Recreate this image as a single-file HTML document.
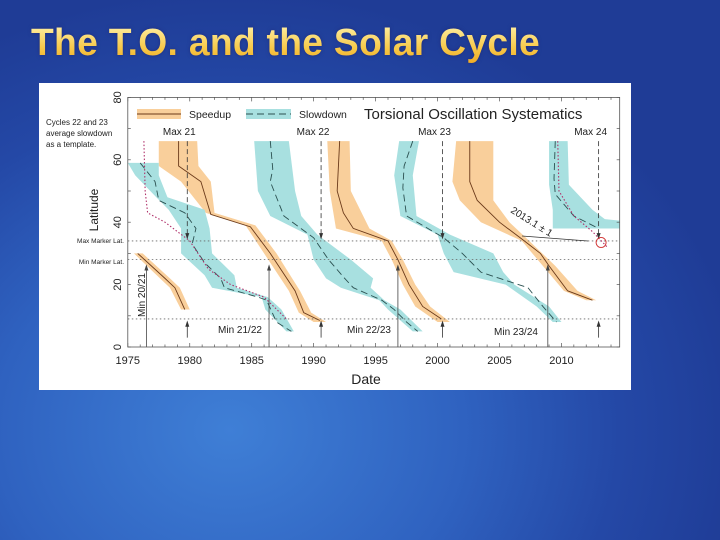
<!DOCTYPE html>
<html><head><meta charset="utf-8">
<style>
html,body{margin:0;padding:0;}
body{width:720px;height:540px;overflow:hidden;position:relative;
background:radial-gradient(ellipse 520px 440px at 230px 430px,#3f7fd6 0%,#2f62c0 45%,#2448a6 75%,#1f3c96 100%);font-family:"Liberation Sans",sans-serif;}
#title{position:absolute;left:31px;top:22px;font-size:38px;font-weight:bold;letter-spacing:0.3px;
background:linear-gradient(#fff4b0,#f7c94a 60%,#f0a820);-webkit-background-clip:text;background-clip:text;color:transparent;
filter:drop-shadow(0 0 2px rgba(30,40,120,.8));white-space:nowrap;transform:scaleX(0.98);transform-origin:left top;}
#chart{position:absolute;left:39px;top:83px;width:592px;height:307px;background:#fff;}
svg text{font-family:"Liberation Sans",sans-serif;fill:#222;}
</style></head>
<body>
<div id="title">The T.O. and the Solar Cycle</div>
<div id="chart">
<svg id="svg" width="592" height="307" viewBox="39 83 592 307" xmlns="http://www.w3.org/2000/svg"></svg>
</div>
<script>
// data: bands are [lat, leftYear, rightYear]; lines are [year, lat]
const xTicks=[1975,1980,1985,1990,1995,2000,2005,2010];
const yTicks=[0,20,40,60,80];
const speedBandA=[[30,1975.5,1976.2],[22,1977.6,1978.4],[19,1978.4,1979.2],[12,1979.3,1980.0]];
const speedBandB=[[66,1977.5,1980.6],[58,1977.5,1980.7],[53,1979.3,1981.7],[43,1981.3,1982.0],[39,1984.5,1985.3],[30,1986.0,1987.0],[18,1988.0,1988.9],[11,1988.8,1989.8],[8,1990.0,1991.0]];
const speedBandC=[[66,1991.1,1992.9],[50,1991.3,1993.0],[38,1991.8,1994.5],[34,1995.5,1996.3],[28,1996.3,1997.2],[20,1997.2,1998.2],[13,1998.2,1999.4],[8,2000.0,2001.0]];
const speedBandD=[[66,2001.5,2004.5],[53,2001.2,2004.5],[47,2001.8,2004.5],[40,2003.5,2005.8],[34,2006.8,2007.4],[26,2008.5,2009.5],[18,2010.2,2011.3],[15,2012.0,2012.8]];
const slowBandA=[[59,1975.0,1977.5],[55,1975.6,1977.5],[48,1977.3,1978.2],[44,1978.3,1981.2],[38,1979.3,1981.6],[30,1979.3,1981.8],[23,1981.2,1983.6],[19,1981.8,1983.8],[16,1985.8,1986.3],[12,1986.1,1987.4],[5,1987.8,1988.4]];
const slowBandB=[[66,1985.2,1988.0],[50,1985.5,1988.5],[42,1986.5,1989.0],[36,1989.5,1990.3],[28,1990.0,1993.0],[22,1991.0,1994.8],[19,1992.2,1994.6],[15,1995.3,1995.7],[12,1996.0,1997.0],[5,1998.0,1998.8]];
const slowBandC=[[66,1996.9,1998.5],[55,1996.5,1998.0],[42,1997.0,1998.3],[36,2000.0,2001.0],[30,2000.5,2004.5],[24,2001.3,2005.3],[20,2005.5,2006.2],[13,2008.0,2009.0],[8,2009.3,2010.0]];
const slowBandD=[[66,2009.0,2010.5],[52,2009.0,2010.6],[44,2009.3,2012.5],[41,2009.3,2013.5],[40.5,2009.3,2014.7],[38,2009.3,2014.7]];
const speedLineA=[[1975.8,30],[1978,22],[1978.8,19],[1979.6,12]];
const speedLineB=[[1979.1,66],[1979.1,58],[1980.9,53],[1981.7,42.5],[1984.9,38.5],[1986.5,30],[1988.5,18],[1989.2,11],[1990.5,8.5]];
const speedLineC=[[1992.1,66],[1991.9,50],[1992.4,43],[1993.2,38],[1996.0,34],[1996.8,28],[1997.7,20],[1998.8,13],[2000.3,9]];
const speedLineD=[[2002.6,66],[2002.6,53],[2003.2,47],[2005,40],[2007,34],[2008.3,30],[2009,26],[2010.5,18],[2012.5,15]];
const slowLineA=[[1976.0,59],[1977.2,53],[1977.5,47],[1979.6,43],[1980.5,38],[1980.2,33],[1981.2,27],[1982.5,22],[1982.8,19],[1985.5,16],[1986.2,15],[1987.0,8],[1988.2,5]];
const slowLineB=[[1986.5,66],[1986.7,57],[1986.5,53],[1987.6,42],[1990,35],[1991.2,28],[1992.5,22],[1993.2,19],[1995.5,15],[1996.5,12],[1997.5,8],[1998.4,5]];
const slowLineC=[[1998.0,66],[1997.3,58],[1997.2,51],[1997.5,42],[2000.5,35],[2002,30],[2003.5,24],[2005,22],[2007.3,19],[2008.5,13],[2009.6,8]];
const slowLineD=[[2009.5,66],[2009.4,54],[2009.5,49],[2011,42],[2013,38]];
const templateA=[[1976.3,66],[1976.4,50],[1976.6,43],[1978,40],[1980,34],[1981.5,25],[1983.3,20],[1986,16],[1987.8,9]];
const templateB=[[2009.7,66],[2009.8,50],[2011,42],[2012.5,37],[2013.7,32]];
const maxYears=[1979.8,1990.6,2000.4,2013.0];
const maxLabels=["Max 21","Max 22","Max 23","Max 24"];
const minYears=[1976.5,1986.4,1996.8,2008.9];
const markerLats=[34,28,9];

const X0=127.8,PX=12.39,Y0=347,PY=3.12;
function xs(y){return X0+(y-1975)*PX;}
function ys(l){return Y0-l*PY;}
const svg=document.getElementById('svg');
const NS='http://www.w3.org/2000/svg';
function mk(tag,attrs,parent){const e=document.createElementNS(NS,tag);for(const k in attrs)e.setAttribute(k,attrs[k]);(parent||svg).appendChild(e);return e;}
function band(b,fill,name){
  const pts=b.map(p=>xs(p[1])+','+ys(p[0])).concat(b.slice().reverse().map(p=>xs(p[2])+','+ys(p[0])));
  const e=mk('polygon',{points:pts.join(' '),fill:fill});
  
  
}
function line(l,stroke,dash,name,w){
  const e=mk('polyline',{points:l.map(p=>xs(p[0])+','+ys(p[1])).join(' '),fill:'none',stroke:stroke,'stroke-width':w||1,'stroke-dasharray':dash||''});
  
  
}
function txt(x,y,s,size,anchor,rot,name){
  const e=mk('text',{x:x,y:y,'font-size':size,'text-anchor':anchor||'start'});
  if(rot)e.setAttribute('transform','rotate('+rot+' '+x+' '+y+')');
  e.textContent=s;
  
  
  return e;
}
const OR='#f9cf9b',BL='#a8e0e0';
[speedBandA,speedBandB,speedBandC,speedBandD].forEach((b,i)=>band(b,OR,'speedup-band-'+i));
[slowBandA,slowBandB,slowBandC,slowBandD].forEach((b,i)=>band(b,BL,'slowdown-band-'+i));
markerLats.forEach((l,i)=>{const e=mk('line',{x1:X0,x2:xs(2014.7),y1:ys(l),y2:ys(l),stroke:'#666','stroke-dasharray':'1.5,2.5','stroke-width':0.8});
});
[speedLineA,speedLineB,speedLineC,speedLineD].forEach((l,i)=>line(l,'#6b3a1a','','speedup-line-'+i,0.9));
[slowLineA,slowLineB,slowLineC,slowLineD].forEach((l,i)=>line(l,'#2b5050','7,4','slowdown-line-'+i,0.9));
line(templateA,'#b0306a','1.5,2','template-curve-a',1.1);
line(templateB,'#b0306a','1.5,2','template-curve-b',1.1);
maxYears.forEach((y,i)=>{
  const e=mk('line',{x1:xs(y),x2:xs(y),y1:ys(66),y2:ys(35),stroke:'#333','stroke-dasharray':'5,3','stroke-width':0.8});
  
  const a=mk('polygon',{points:(xs(y)-2)+','+(ys(36.5))+' '+(xs(y)+2)+','+(ys(36.5))+' '+xs(y)+','+ys(34.5),fill:'#333'});
  
  const b=mk('line',{x1:xs(y),x2:xs(y),y1:ys(3),y2:ys(7.5),stroke:'#333','stroke-width':0.8});
  
  const c=mk('polygon',{points:(xs(y)-2)+','+(ys(6.5))+' '+(xs(y)+2)+','+(ys(6.5))+' '+xs(y)+','+ys(8.5),fill:'#333'});
  
  txt(xs(y)-8,135,maxLabels[i],10,'middle',0,'max-label');
});
minYears.forEach(y=>{
  const e=mk('line',{x1:xs(y),x2:xs(y),y1:ys(0),y2:ys(26),stroke:'#444','stroke-width':0.8});
  
  const a=mk('polygon',{points:(xs(y)-2)+','+(ys(24.5))+' '+(xs(y)+2)+','+(ys(24.5))+' '+xs(y)+','+ys(26.5),fill:'#444'});
  
});
const fr=mk('rect',{x:X0,y:ys(80),width:xs(2014.7)-X0,height:ys(0)-ys(80),fill:'none',stroke:'#555','stroke-width':0.8});

for(let y=1975;y<=2014;y++){
  const L=(y%5===0)?4:2.5;
  const t=mk('line',{x1:xs(y),x2:xs(y),y1:ys(0),y2:ys(0)-L,stroke:'#555','stroke-width':0.7});
  
  const t2=mk('line',{x1:xs(y),x2:xs(y),y1:ys(80),y2:ys(80)+L,stroke:'#555','stroke-width':0.7});
  
}
for(let l=0;l<=80;l+=10){
  const t=mk('line',{x1:X0,x2:X0+3,y1:ys(l),y2:ys(l),stroke:'#555','stroke-width':0.7});
  
  const t2=mk('line',{x1:xs(2014.7)-3,x2:xs(2014.7),y1:ys(l),y2:ys(l),stroke:'#555','stroke-width':0.7});
  
}
xTicks.forEach(y=>txt(xs(y),364,String(y),11,'middle',0,'x-tick-label'));
yTicks.forEach(l=>txt(121,ys(l),String(l),11,'middle',-90,'y-tick-label'));
txt(366,384,'Date',14,'middle',0,'x-axis-title');
txt(98,210,'Latitude',12,'middle',-90,'y-axis-title');
const r1=mk('rect',{x:137,y:109,width:44,height:10,fill:OR});
const l1=mk('line',{x1:137,x2:181,y1:114,y2:114,stroke:'#6b3a1a','stroke-width':0.9});
txt(189,118,'Speedup',10.5,'start',0,'legend-speedup-label');
const r2=mk('rect',{x:246,y:109,width:45,height:10,fill:BL});
const l2=mk('line',{x1:246,x2:291,y1:114,y2:114,stroke:'#2b5050','stroke-dasharray':'7,4','stroke-width':0.9});
txt(299,118,'Slowdown',10.5,'start',0,'legend-slowdown-label');
txt(364,119,'Torsional Oscillation Systematics',15,'start',0,'chart-title');
txt(46,125,'Cycles 22 and 23',8,'start',0,'annotation-line1');
txt(46,136,'average slowdown',8,'start',0,'annotation-line2');
txt(46,147,'as a template.',8,'start',0,'annotation-line3');
txt(124,243,'Max Marker Lat.',6.5,'end',0,'max-marker-label');
txt(124,264,'Min Marker Lat.',6.5,'end',0,'min-marker-label');
txt(240,333,'Min 21/22',10,'middle',0,'min-label');
txt(369,333,'Min 22/23',10,'middle',0,'min-label');
txt(516,335,'Min 23/24',10,'middle',0,'min-label');
txt(145,295,'Min 20/21',10,'middle',-90,'min-label');
txt(510,212,'2013.1 ± 1',10,'start',32,'prediction-label');
const ar=mk('line',{x1:522,y1:236,x2:588,y2:241,stroke:'#333','stroke-width':0.8});
const ci=mk('circle',{cx:xs(2013.2),cy:ys(33.5),r:5,fill:'none',stroke:'#d03030','stroke-width':0.9});
</script>
</body></html>
